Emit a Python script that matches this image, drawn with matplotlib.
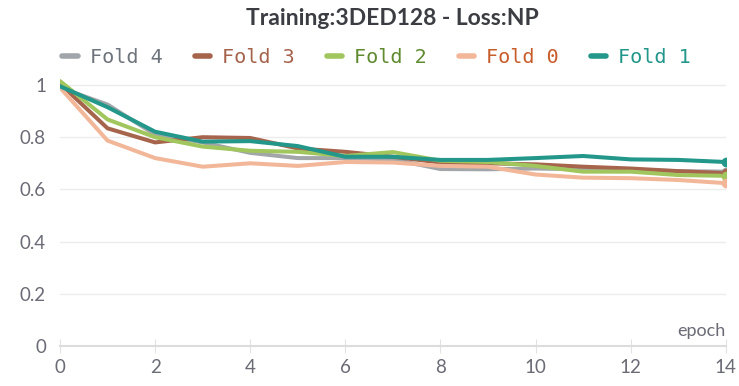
import numpy as np
import matplotlib.pyplot as plt

epochs = np.arange(15)

fold4 = [0.99, 0.925, 0.81, 0.78, 0.74, 0.72, 0.72, 0.715, 0.678, 0.677, 0.68, 0.677, 0.674, 0.67, 0.668]
fold3 = [1.005, 0.834, 0.78, 0.80, 0.797, 0.757, 0.744, 0.725, 0.703, 0.70, 0.696, 0.687, 0.68, 0.67, 0.662]
fold2 = [1.015, 0.868, 0.80, 0.764, 0.748, 0.744, 0.728, 0.743, 0.71, 0.705, 0.69, 0.668, 0.668, 0.655, 0.652]
fold0 = [0.99, 0.787, 0.72, 0.687, 0.70, 0.69, 0.705, 0.703, 0.69, 0.687, 0.657, 0.645, 0.643, 0.636, 0.624]
fold1 = [0.995, 0.915, 0.821, 0.783, 0.785, 0.766, 0.725, 0.725, 0.713, 0.713, 0.72, 0.728, 0.715, 0.713, 0.705]

names = ["Fold 4", "Fold 3", "Fold 2", "Fold 0", "Fold 1"]
series = [fold4, fold3, fold2, fold0, fold1]
line_colors = ["#a2a6a9", "#a6644c", "#a1c65d", "#f2b799", "#22978a"]
text_colors = ["#6e747c", "#a5634b", "#5f8a2f", "#c85d2c", "#22968a"]

fig = plt.figure(figsize=(7.39, 3.86), dpi=100)
ax = fig.add_axes([0.0812, 0.1036, 0.9008, 0.71])

lines = []
for name, vals, c in zip(names, series, line_colors):
    ln, = ax.plot(epochs, vals, color=c, lw=2.9, label=name,
                  solid_capstyle="round", solid_joinstyle="round")
    ax.plot(epochs[-1], vals[-1], "o", color=c, ms=6, zorder=3)
    lines.append(ln)

ax.set_xlim(0, 14)
ax.set_ylim(0, 1.05)
ax.set_xticks(np.arange(0, 15, 2))
ax.set_yticks([0, 0.2, 0.4, 0.6, 0.8, 1.0])
ax.set_yticklabels(["0", "0.2", "0.4", "0.6", "0.8", "1"])
ax.yaxis.grid(True, color="#ececec", lw=1)
ax.set_axisbelow(True)
for s in ["top", "right", "left"]:
    ax.spines[s].set_visible(False)
ax.spines["bottom"].set_color("#dcdcdc")
ax.spines["bottom"].set_linewidth(1.5)
ax.tick_params(axis="y", length=0, pad=10, labelsize=13.5, labelcolor="#6b6b76")
ax.tick_params(axis="x", direction="inout", length=10, color="#e2e2e2",
               pad=4, labelsize=13.5, labelcolor="#6b6b76")
for lab in ax.get_xticklabels() + ax.get_yticklabels():
    lab.set_family("Lato")

ax.text(1.0, 0.025, "epoch", transform=ax.transAxes, ha="right", va="bottom",
        fontsize=13, color="#6b6b76", family="Lato")

ax.set_title("Training:3DED128 - Loss:NP", fontsize=16.5, fontweight="bold",
             color="#3b3d42", family="Lato", pad=34)

leg = fig.legend(lines, names, loc="center left", bbox_to_anchor=(0.06, 0.85),
                 ncol=5, frameon=False, handlelength=0.75, handletextpad=0.6,
                 columnspacing=1.6, prop={"family": "DejaVu Sans Mono", "size": 14.5})
for t, c in zip(leg.get_texts(), text_colors):
    t.set_color(c)
for h in leg.legend_handles:
    h.set_linewidth(4)

fig.savefig("out.png", dpi=100)
